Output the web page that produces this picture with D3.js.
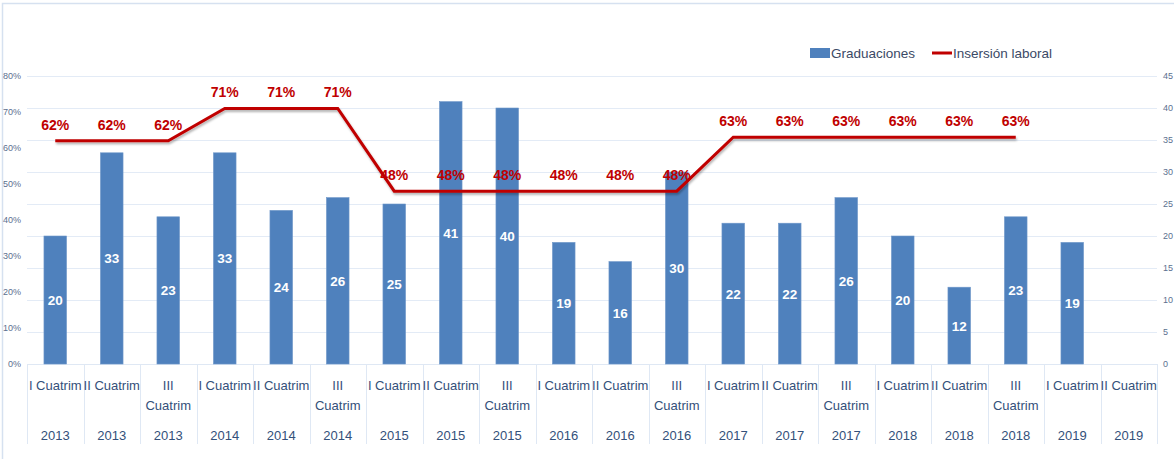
<!DOCTYPE html>
<html>
<head>
<meta charset="utf-8">
<script src="https://cdn.jsdelivr.net/npm/d3@7"></script>
<style>
  body { margin: 0; background: #fff; }
  svg { display: block; font-family: "Open Sans", "Liberation Sans", sans-serif; }
</style>
</head>
<body>
<div id="chart"></div>
<script>
// chart values
var periods = ["I Cuatrim", "II Cuatrim", "III Cuatrim", "I Cuatrim", "II Cuatrim", "III Cuatrim",
               "I Cuatrim", "II Cuatrim", "III Cuatrim", "I Cuatrim", "II Cuatrim", "III Cuatrim",
               "I Cuatrim", "II Cuatrim", "III Cuatrim", "I Cuatrim", "II Cuatrim", "III Cuatrim",
               "I Cuatrim", "II Cuatrim"];
var years = ["2013", "2013", "2013", "2014", "2014", "2014", "2015", "2015", "2015",
             "2016", "2016", "2016", "2017", "2017", "2017", "2018", "2018", "2018", "2019", "2019"];
var graduaciones = [20, 33, 23, 33, 24, 26, 25, 41, 40, 19, 16, 30, 22, 22, 26, 20, 12, 23, 19, null];
var insercion = [0.62, 0.62, 0.62, 0.71, 0.71, 0.71, 0.48, 0.48, 0.48, 0.48, 0.48, 0.48,
                 0.63, 0.63, 0.63, 0.63, 0.63, 0.63];
var leftTicks = [0, 0.1, 0.2, 0.3, 0.4, 0.5, 0.6, 0.7, 0.8];
var rightTicks = [0, 5, 10, 15, 20, 25, 30, 35, 40, 45];

var W = 1174, H = 459;
var plotLeft = 27, plotRight = 1157, plotTop = 76, plotBottom = 364;

var svg = d3.select("#chart").append("svg")
    .attr("width", W).attr("height", H);

// drop shadow for the line
var defs = svg.append("defs");
var f = defs.append("filter").attr("id", "shadow")
    .attr("x", "-5%").attr("y", "-50%").attr("width", "110%").attr("height", "200%");
f.append("feDropShadow").attr("dx", 1).attr("dy", 2).attr("stdDeviation", 1.2)
    .attr("flood-color", "#000").attr("flood-opacity", 0.3);

// outer frame
svg.append("path")
    .attr("d", "M2.5," + H + " V3.5 H" + W)
    .attr("fill", "none").attr("stroke", "#d6e1f0").attr("stroke-width", 1.5);

var x = d3.scaleBand().domain(d3.range(periods.length)).range([plotLeft, plotRight]).paddingInner(0.6).paddingOuter(0.3);
var xCat = d3.scaleBand().domain(d3.range(periods.length)).range([plotLeft, plotRight]);
var yL = d3.scaleLinear().domain([0, 0.8]).range([plotBottom, plotTop]);
var yR = d3.scaleLinear().domain([0, 45]).range([plotBottom, plotTop]);

// gridlines
svg.append("g").selectAll("line").data(rightTicks).join("line")
    .attr("x1", plotLeft).attr("x2", plotRight)
    .attr("y1", function (d) { return Math.round(yR(d)) + 0.5; })
    .attr("y2", function (d) { return Math.round(yR(d)) + 0.5; })
    .attr("stroke", "#e3ebf6").attr("stroke-width", 1);

// left axis
var axL = svg.append("g").attr("transform", "translate(" + (plotLeft - 6) + ",0)")
    .call(d3.axisLeft(yL).tickValues(leftTicks).tickFormat(d3.format(".0%")).tickSize(0).tickPadding(0));
axL.select(".domain").remove();
axL.selectAll("text").attr("fill", "#5b6f8f").attr("font-size", 9)
    .attr("font-family", "Liberation Sans, sans-serif");

// right axis
var axR = svg.append("g").attr("transform", "translate(" + (plotRight + 6) + ",0)")
    .call(d3.axisRight(yR).tickValues(rightTicks).tickSize(0).tickPadding(0));
axR.select(".domain").remove();
axR.selectAll("text").attr("fill", "#5b6f8f").attr("font-size", 9)
    .attr("font-family", "Liberation Sans, sans-serif");

// category separators
var sep = d3.range(periods.length + 1);
svg.append("g").selectAll("line").data(sep).join("line")
    .attr("x1", function (d) { return Math.round(plotLeft + d * xCat.step()) + 0.5; })
    .attr("x2", function (d) { return Math.round(plotLeft + d * xCat.step()) + 0.5; })
    .attr("y1", plotBottom).attr("y2", 444)
    .attr("stroke", "#dfe8f4").attr("stroke-width", 1);
svg.append("line").attr("x1", plotLeft).attr("x2", plotRight)
    .attr("y1", plotBottom + 0.5).attr("y2", plotBottom + 0.5)
    .attr("stroke", "#dfe8f4");

// category labels
var cats = svg.append("g").attr("fill", "#34507a").attr("font-size", 13)
    .attr("font-family", "Liberation Sans Narrow, Liberation Sans, sans-serif")
    .attr("text-anchor", "middle");
periods.forEach(function (p, i) {
    var cx = xCat(i) + xCat.bandwidth() / 2;
    if (p.indexOf("III") === 0) {
        cats.append("text").attr("x", cx).attr("y", 390).text("III");
        cats.append("text").attr("x", cx).attr("y", 410).text("Cuatrim");
    } else {
        cats.append("text").attr("x", cx).attr("y", 390).text(p);
    }
    cats.append("text").attr("x", cx).attr("y", 440).text(years[i]);
});

// bars
var barData = graduaciones.map(function (v, i) { return { i: i, v: v }; })
    .filter(function (d) { return d.v !== null; });
svg.append("g").selectAll("rect").data(barData).join("rect")
    .attr("x", function (d) { return x(d.i); })
    .attr("width", x.bandwidth())
    .attr("y", function (d) { return yR(d.v); })
    .attr("height", function (d) { return yR(0) - yR(d.v); })
    .attr("fill", "#4f81bd")
    .attr("stroke", "#6f97c9").attr("stroke-width", 0.6);

svg.append("g").selectAll("text").data(barData).join("text")
    .attr("x", function (d) { return x(d.i) + x.bandwidth() / 2; })
    .attr("y", function (d) { return (yR(d.v) + yR(0)) / 2 + 5; })
    .attr("text-anchor", "middle")
    .attr("fill", "#fff").attr("font-size", 13.5).attr("font-weight", "bold")
    .attr("font-family", "Liberation Sans, sans-serif")
    .text(function (d) { return d.v; });

// line
var line = d3.line()
    .x(function (d, i) { return xCat(i) + xCat.bandwidth() / 2; })
    .y(function (d) { return yL(d); });
svg.append("path").datum(insercion)
    .attr("d", line)
    .attr("fill", "none").attr("stroke", "#c00000").attr("stroke-width", 3)
    .attr("stroke-linejoin", "miter")
    .attr("filter", "url(#shadow)");

svg.append("g").selectAll("text").data(insercion).join("text")
    .attr("x", function (d, i) { return xCat(i) + xCat.bandwidth() / 2; })
    .attr("y", function (d) { return yL(d) - 11; })
    .attr("text-anchor", "middle")
    .attr("fill", "#c00000").attr("font-size", 14).attr("font-weight", "bold")
    .attr("font-family", "Liberation Sans Narrow, Liberation Sans, sans-serif")
    .text(function (d) { return Math.round(d * 100) + "%"; });

// legend
var lg = svg.append("g").attr("font-size", 13.5).attr("fill", "#3b4a66")
    .attr("font-family", "Liberation Sans Narrow, Liberation Sans, sans-serif");
lg.append("rect").attr("x", 810).attr("y", 48).attr("width", 20).attr("height", 10).attr("fill", "#4f81bd");
lg.append("text").attr("x", 831).attr("y", 58).text("Graduaciones");
lg.append("line").attr("x1", 932).attr("x2", 952).attr("y1", 53).attr("y2", 53)
    .attr("stroke", "#c00000").attr("stroke-width", 3);
lg.append("text").attr("x", 953).attr("y", 58).text("Insersión laboral");
</script>
</body>
</html>
